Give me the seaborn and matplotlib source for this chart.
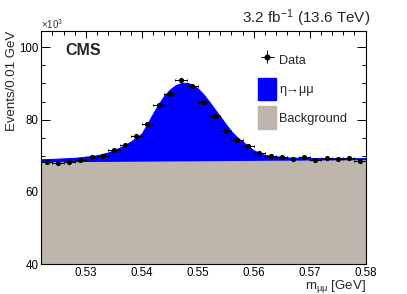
import numpy as np
import matplotlib
matplotlib.use("Agg")
import matplotlib.pyplot as plt
import seaborn as sns
from matplotlib.patches import Patch
from matplotlib.ticker import MultipleLocator

# Data points (bin centres in GeV, events in units of 10^3 per 0.01 GeV)
bin_centers = [0.523, 0.525, 0.527, 0.529, 0.531, 0.533, 0.535, 0.537, 0.539, 0.541,
               0.543, 0.545, 0.547, 0.549, 0.551, 0.553, 0.555, 0.557, 0.559, 0.561,
               0.563, 0.565, 0.567, 0.569, 0.571, 0.573, 0.575, 0.577, 0.579]
counts = [68.3, 68.0, 68.3, 68.7, 69.7, 70.0, 71.7, 72.9, 75.5, 78.9,
          84.1, 87.2, 90.9, 89.4, 85.0, 81.0, 76.8, 74.4, 72.8, 70.8,
          70.0, 69.6, 69.0, 69.5, 68.7, 69.3, 69.2, 69.3, 68.5]
bin_half_width = 0.001

# Fitted total model (signal + background)
fit_x = [0.522, 0.524, 0.526, 0.528, 0.530, 0.532, 0.534, 0.536, 0.537, 0.538,
         0.539, 0.540, 0.541, 0.542, 0.543, 0.544, 0.545, 0.546, 0.547, 0.548,
         0.549, 0.550, 0.551, 0.552, 0.553, 0.554, 0.555, 0.556, 0.557, 0.558,
         0.559, 0.560, 0.561, 0.562, 0.564, 0.566, 0.570, 0.575, 0.580]
fit_total = [69.0, 69.1, 69.25, 69.4, 69.7, 70.1, 70.9, 72.2, 73.0, 73.9,
             75.0, 76.2, 78.9, 81.7, 84.3, 86.6, 88.3, 89.5, 90.1, 90.2,
             89.7, 88.6, 87.0, 85.0, 82.9, 80.8, 78.7, 76.7, 75.1, 73.9,
             72.6, 71.5, 70.7, 70.2, 69.8, 69.5, 69.35, 69.3, 69.3]

# Background component
bkg_x = [0.522, 0.580]
bkg_y = [68.3, 68.9]

sns.set_style("ticks")
plt.rcParams['font.family'] = ['Liberation Sans', 'DejaVu Sans']
plt.rcParams['mathtext.fontset'] = 'custom'
plt.rcParams['mathtext.rm'] = 'Liberation Sans'
plt.rcParams['mathtext.it'] = 'Liberation Sans:italic'
plt.rcParams['mathtext.default'] = 'regular'

fig = plt.figure(figsize=(4.07, 2.94), dpi=100)
ax = fig.add_axes([0.1012, 0.102, 0.7973, 0.7935])

ymin, ymax = 40, 104.6
signal_color = "#0000ff"
bkg_color = "#bfb6ab"

ax.fill_between(fit_x, ymin, fit_total, color=signal_color, lw=0.8, zorder=1)
ax.fill_between(bkg_x, ymin, bkg_y, color=bkg_color, lw=0, zorder=2)

yerr = np.sqrt(np.array(counts) * 1000) / 1000
ax.errorbar(bin_centers, counts, xerr=bin_half_width, yerr=yerr, fmt="none",
            ecolor="black", elinewidth=0.7, capsize=1.0, capthick=0.7, zorder=3)
sns.scatterplot(x=bin_centers, y=counts, color="black", s=14, edgecolor="black",
                linewidth=0, ax=ax, zorder=4)

ax.set_xlim(0.522, 0.58)
ax.set_ylim(ymin, ymax)
ax.xaxis.set_minor_locator(MultipleLocator(0.002))
ax.yaxis.set_major_locator(MultipleLocator(20))
ax.yaxis.set_minor_locator(MultipleLocator(5))
ax.set_xticks([0.53, 0.54, 0.55, 0.56, 0.57, 0.58])
ax.set_xticklabels(["0.53", "0.54", "0.55", "0.56", "0.57", "0.58"])
ax.tick_params(which="both", direction="in", top=True, right=True, width=0.7,
               colors="black", labelsize=8.3, pad=2)
ax.tick_params(axis="y", which="major", length=6.5)
ax.tick_params(axis="x", which="major", length=5)
ax.tick_params(which="minor", length=3.2)
for sp in ax.spines.values():
    sp.set_linewidth(0.8)
    sp.set_color("black")

ax.set_xlabel(r"m$_{\mu\mu}$ [GeV]", fontsize=9.5, loc="right", labelpad=-0.5)
ax.set_ylabel("Events/0.01 GeV", fontsize=9.5, loc="top", labelpad=1)
ax.text(0.0, 0.999, r"×10$^{3}$", transform=ax.transAxes, fontsize=7,
        ha="left", va="bottom", color="#333333")
ax.text(1.013, 1.009, r"3.2 fb$^{-1}$ (13.6 TeV)", transform=ax.transAxes,
        fontsize=11, ha="right", va="bottom")
ax.text(0.073, 0.896, "CMS", transform=ax.transAxes, fontsize=11.5,
        fontweight="bold", ha="left", va="baseline")

data_handle = ax.errorbar([], [], xerr=[], yerr=[], fmt="o", color="black",
                          markersize=3.3, elinewidth=0.7)
handles = [
    data_handle,
    Patch(facecolor=signal_color, edgecolor=signal_color),
    Patch(facecolor=bkg_color, edgecolor=bkg_color),
]
leg = ax.legend(handles, ["Data", "η→μμ", "Background"], loc="upper left",
                bbox_to_anchor=(0.668, 0.921), frameon=False, fontsize=9.2,
                handlelength=1.45, handleheight=2.34, handletextpad=0.2,
                labelspacing=0.47, borderpad=0, borderaxespad=0)

fig.savefig("out.png", dpi=100)
